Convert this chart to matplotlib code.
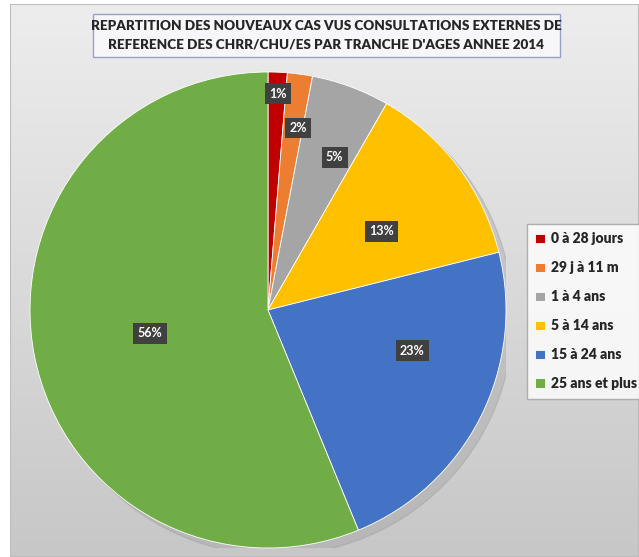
import numpy as np
import matplotlib.pyplot as plt
from matplotlib.patches import Rectangle, Circle

# Data
categories = ['0 à 28 jours', '29 j à 11 m', '1 à 4 ans', '5 à 14 ans',
              '15 à 24 ans', '25 ans et plus']
shares = [1.3, 1.7, 5.3, 12.8, 22.7, 56.2]
pct_labels = ['1%', '2%', '5%', '13%', '23%', '56%']
colors = ['#C00000', '#ED7D31', '#A5A5A5', '#FFC000', '#4472C4', '#70AD47']
# where each label sits: radius fraction and position across the wedge
label_radius = [0.91, 0.775, 0.70, 0.58, 0.63, 0.505]
label_frac = [0.57, 0.77, 0.67, 0.55, 0.365, 0.5]
title = ("REPARTITION DES NOUVEAUX CAS VUS CONSULTATIONS EXTERNES DE\n"
         "REFERENCE DES CHRR/CHU/ES PAR TRANCHE D'AGES ANNEE 2014")

plt.rcParams['font.family'] = ['Lato', 'DejaVu Sans']

W, H = 639, 557
fig = plt.figure(figsize=(W / 100, H / 100), dpi=100)
fig.patch.set_facecolor('white')

# background panel with vertical gradient
bg = fig.add_axes([10 / W, 0, 1 - 10 / W, 1 - 4 / H])
bg.set_axis_off()
grad = np.linspace(0, 1, 256).reshape(-1, 1)
top = np.array([0.93, 0.93, 0.93])
bot = np.array([0.78, 0.78, 0.78])
img = top + (bot - top) * grad[..., None]
img = np.repeat(img, 2, axis=1)
bg.imshow(img, aspect='auto', extent=[0, 1, 0, 1], origin='upper')
bg.add_patch(Rectangle((0, 0), 1, 1, transform=bg.transAxes, fill=False,
                       edgecolor='#bcbcbc', linewidth=1.5))

# title box
bg.add_patch(Rectangle(((93 - 10) / W / (1 - 10 / W), 1 - 53 / (H - 4)),
                       467 / (W - 10), 43 / (H - 4), transform=bg.transAxes,
                       facecolor='#f7f7f9', edgecolor='#9aa0c8', linewidth=1.0,
                       zorder=3))

# pie
cx, cy, r = 268, 310, 238
ax = fig.add_axes([(cx - r) / W, (H - cy - r) / H, 2 * r / W, 2 * r / H])
ax.set_aspect('equal')
ax.set_axis_off()
ax.add_patch(Circle((0.03, -0.03), 1.0, color='#9a9a9a', alpha=0.35, zorder=0))
wedges, _ = ax.pie(shares, colors=colors, startangle=90, counterclock=False,
                   radius=1.0, wedgeprops=dict(edgecolor='white', linewidth=0.6))
for w, lab, rr, fr in zip(wedges, pct_labels, label_radius, label_frac):
    # counterclock=False: theta2 is the wedge start, theta1 its end
    ang = np.deg2rad(w.theta2 + (w.theta1 - w.theta2) * fr)
    x, y = rr * np.cos(ang), rr * np.sin(ang)
    ax.text(x, y, lab, ha='center', va='center', color='white', fontsize=9,
            fontweight='bold',
            bbox=dict(boxstyle='square,pad=0.35', facecolor='#404040',
                      edgecolor='none'))
ax.set_xlim(-1, 1)
ax.set_ylim(-1, 1)

fig.text(326 / W, 1 - 35.5 / H, title, ha='center', va='center', fontsize=9.7,
         fontweight='heavy', color='#262626', linespacing=1.6, zorder=5)

# legend
leg = fig.legend(wedges, categories, loc='upper left',
                 bbox_to_anchor=(527 / W, 1 - 224 / H), frameon=True,
                 fancybox=False, prop=dict(weight='heavy', size=10),
                 handlelength=0.7, handleheight=0.7, handletextpad=0.4,
                 labelspacing=1.15, borderpad=0.6, borderaxespad=0)
leg.get_frame().set_edgecolor('#a0a0a0')
leg.get_frame().set_facecolor('white')
leg.get_frame().set_linewidth(1.0)
for t in leg.get_texts():
    t.set_color('#262626')

fig.savefig('out.png', dpi=100)
